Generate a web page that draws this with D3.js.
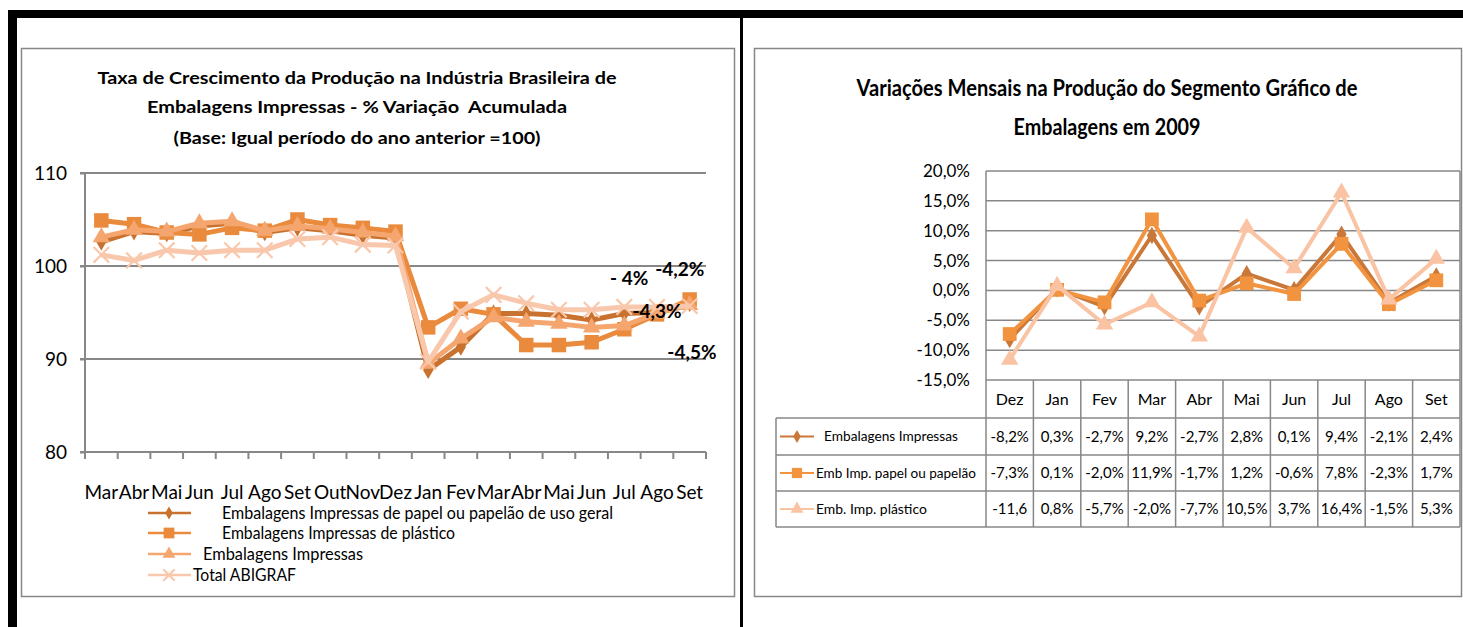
<!DOCTYPE html>
<html>
<head>
<meta charset="utf-8">
<script src="https://cdn.jsdelivr.net/npm/d3@7"></script>
<style>
  body { margin: 0; background: #fff; }
  svg { display: block; font-family: Lato, "Open Sans", sans-serif; }
</style>
</head>
<body>
<svg id="chart" width="1463" height="627"></svg>
<script>
// ---- left chart: accumulated variation (base = 100)
var monthsAcc = ['Mar','Abr','Mai','Jun','Jul','Ago','Set','Out','Nov','Dez','Jan','Fev','Mar','Abr','Mai','Jun','Jul','Ago','Set'];
var accPapel    = [102.6,103.7,103.5,104.3,104.6,103.6,104.1,103.8,103.3,103.0,88.8,91.3,94.9,94.9,94.7,94.2,94.9,95.0,96.0];
var accPlastico = [104.9,104.5,103.6,103.4,104.1,103.8,105.0,104.4,104.1,103.7,93.4,95.4,94.8,91.5,91.5,91.8,93.2,94.8,96.4];
var accEmb      = [103.1,103.9,103.7,104.6,104.8,103.8,104.3,104.0,103.6,103.2,89.5,92.2,94.5,94.0,93.8,93.4,93.6,94.9,95.8];
var accTotal    = [101.2,100.6,101.7,101.4,101.7,101.7,102.9,103.1,102.3,102.2,89.7,95.1,96.9,96.0,95.3,95.3,95.6,95.6,95.7];
var yTicksAcc = [80, 90, 100, 110];
var accNames = ['Embalagens Impressas de papel ou papelão de uso geral', 'Embalagens Impressas de plástico', 'Embalagens Impressas', 'Total ABIGRAF'];
// data labels: text, category position, value
var accLabels = [
  {t: '- 4%',  i: 16.15, v: 97.95},
  {t: '-4,2%', i: 17.7,  v: 98.9},
  {t: '-4,3%', i: 17.0,  v: 94.4},
  {t: '-4,5%', i: 18.07, v: 89.95}
];

// ---- right chart: monthly variation 2009
var monthsVar = ['Dez','Jan','Fev','Mar','Abr','Mai','Jun','Jul','Ago','Set'];
var varEmb      = [-8.2,0.3,-2.7,9.2,-2.7,2.8,0.1,9.4,-2.1,2.4];
var varPapel    = [-7.3,0.1,-2.0,11.9,-1.7,1.2,-0.6,7.8,-2.3,1.7];
var varPlastico = [-11.6,0.8,-5.7,-2.0,-7.7,10.5,3.7,16.4,-1.5,5.3];
var yTicksVar = [-15,-10,-5,0,5,10,15,20];
var varNames = ['Embalagens Impressas', 'Emb Imp. papel ou papelão', 'Emb. Imp. plástico'];
var cellOverride = {'2-0': '-11,6'};

var svg = d3.select('#chart');
var gridColor = '#878787';

// squeeze a text into a width with textLength
function fit(sel, w) {
  sel.each(function () {
    if (Math.abs(this.getComputedTextLength() - w) > 3)
      d3.select(this).attr('textLength', w).attr('lengthAdjust', 'spacingAndGlyphs');
  });
}
// shrink the font so the text is no wider than w
function shrink(sel, w) {
  sel.each(function () {
    var n = d3.select(this), len = this.getComputedTextLength();
    if (len > w) n.attr('font-size', +n.attr('font-size') * w / len);
  });
}

function marker(g, type, color, size) {
  var sym = {
    diamond: d3.symbolDiamond, square: d3.symbolSquare,
    triangle: d3.symbolTriangle, times: d3.symbolTimes || d3.symbolCross
  }[type];
  var p = g.attr('d', d3.symbol().type(sym).size(size));
  if (type == 'times') p.attr('fill', 'none').attr('stroke', color).attr('stroke-width', 2.2);
  else p.attr('fill', color);
  return p;
}

// frame
svg.append('rect').attr('x', 8).attr('y', 10).attr('width', 1455).attr('height', 8).attr('fill', '#000');
svg.append('rect').attr('x', 8).attr('y', 10).attr('width', 9).attr('height', 617).attr('fill', '#000');
svg.append('rect').attr('x', 740).attr('y', 10).attr('width', 3).attr('height', 617).attr('fill', '#000');

// panels
svg.append('rect').attr('x', 21.5).attr('y', 48.5).attr('width', 713).attr('height', 548)
  .attr('fill', '#fff').attr('stroke', gridColor).attr('stroke-width', 1.5);
svg.append('rect').attr('x', 754.5).attr('y', 48.5).attr('width', 707).attr('height', 548)
  .attr('fill', '#fff').attr('stroke', gridColor).attr('stroke-width', 1.5);

// ================= left chart
var left = svg.append('g');
var titleL = ['Taxa de Crescimento da Produção na Indústria Brasileira de',
  'Embalagens Impressas - % Variação  Acumulada',
  '(Base: Igual período do ano anterior =100)'];
var titleLW = [519, 420, 367];
var titleLY = [78, 107, 138];
titleL.forEach(function (t, i) {
  left.append('text').attr('x', 357).attr('y', titleLY[i]).attr('dy', '0.35em')
    .attr('text-anchor', 'middle').attr('font-size', 17).attr('font-weight', 'bold')
    .attr('xml:space', 'preserve').text(t).call(fit, titleLW[i]);
});

var xAcc = d3.scaleBand().domain(d3.range(monthsAcc.length)).range([85, 706]);
var xPos = function (i) { return xAcc.range()[0] + xAcc.step() * (i + 0.5); };
var yAcc = d3.scaleLinear().domain([80, 110]).range([452, 173]);

left.selectAll('line.grid').data(yTicksAcc.slice(1)).join('line')
  .attr('x1', 80).attr('x2', 706).attr('y1', yAcc).attr('y2', yAcc)
  .attr('stroke', gridColor).attr('stroke-width', 2);

var yAxisL = left.append('g').attr('transform', 'translate(85,0)')
  .call(d3.axisLeft(yAcc).tickValues(yTicksAcc).tickSize(5).tickPadding(13));
yAxisL.selectAll('line, path').attr('stroke', gridColor).attr('stroke-width', 2);
yAxisL.select('path').attr('d', 'M0,' + yAcc(80) + 'V' + yAcc(110));
yAxisL.selectAll('text').attr('font-size', 19).attr('fill', '#000').attr('font-family', 'Lato');

var xAxisL = left.append('g').attr('transform', 'translate(0,452)')
  .call(d3.axisBottom(xAcc).tickSize(0).tickPadding(34).tickFormat(function (i) { return monthsAcc[i]; }));
xAxisL.select('path').attr('stroke', gridColor).attr('stroke-width', 2).attr('d', 'M80,0H706');
xAxisL.selectAll('text').attr('font-size', 19).attr('fill', '#000').attr('font-family', 'Lato');
left.selectAll('line.xt').data(d3.range(monthsAcc.length + 1)).join('line')
  .attr('x1', function (i) { return 85 + xAcc.step() * i; })
  .attr('x2', function (i) { return 85 + xAcc.step() * i; })
  .attr('y1', 452).attr('y2', 459).attr('stroke', gridColor).attr('stroke-width', 2);

var seriesL = [
  {name: accNames[0], values: accPapel,    color: '#c9722f', m: 'diamond',  size: 90},
  {name: accNames[1], values: accPlastico, color: '#e98a3d', m: 'square',   size: 210},
  {name: accNames[2], values: accEmb,      color: '#f5a66f', m: 'triangle', size: 130},
  {name: accNames[3], values: accTotal,    color: '#f9c7ab', m: 'times',    size: 160}
];
var lineL = d3.line().x(function (d, i) { return xPos(i); }).y(function (d) { return yAcc(d); });

seriesL.forEach(function (s) {
  var g = left.append('g');
  g.append('path').attr('d', lineL(s.values)).attr('fill', 'none')
    .attr('stroke', s.color).attr('stroke-width', 5).attr('stroke-linejoin', 'round');
  g.selectAll('path.m').data(s.values).join('path')
    .attr('transform', function (d, i) { return 'translate(' + xPos(i) + ',' + yAcc(d) + ')'; })
    .each(function () { marker(d3.select(this), s.m, s.color, s.size); });
});

left.selectAll('text.lab').data(accLabels).join('text')
  .attr('x', function (d) { return xPos(d.i); }).attr('y', function (d) { return yAcc(d.v); })
  .attr('text-anchor', 'middle').attr('font-size', 19).attr('font-weight', 'bold')
  .text(function (d) { return d.t; });

// legend
var legY = [513, 533, 554, 575];
var legTX = [222, 222, 203, 193];
var legW = [391, 233, 160, 103];
seriesL.forEach(function (s, i) {
  var g = left.append('g').attr('transform', 'translate(0,' + legY[i] + ')');
  g.append('line').attr('x1', 148).attr('x2', 191).attr('stroke', s.color).attr('stroke-width', 2.5);
  marker(g.append('path').attr('transform', 'translate(169,0)'), s.m, s.color, s.size * 0.55);
  g.append('text').attr('x', legTX[i]).attr('dy', '0.35em').attr('font-size', 17)
    .text(s.name).call(fit, legW[i]);
});

// ================= right chart
var right = svg.append('g');
var titleR = ['Variações Mensais na Produção do Segmento Gráfico de', 'Embalagens em 2009'];
var titleRW = [501, 187];
var titleRY = [88, 127];
titleR.forEach(function (t, i) {
  right.append('text').attr('x', 1107).attr('y', titleRY[i]).attr('dy', '0.35em')
    .attr('text-anchor', 'middle').attr('font-size', 22).attr('font-weight', 'bold')
    .text(t).call(fit, titleRW[i]);
});

var xVar = d3.scaleBand().domain(monthsVar).range([986, 1460]);
var yVar = d3.scaleLinear().domain([-15, 20]).range([380, 171]);
var fmt = function (v) { return d3.format('.1f')(v).replace('.', ',').replace('−', '-') + '%'; };

right.selectAll('line.grid').data(yTicksVar).join('line')
  .attr('x1', 986).attr('x2', 1460).attr('y1', yVar).attr('y2', yVar)
  .attr('stroke', gridColor).attr('stroke-width', 1.5);

var yAxisR = right.append('g').attr('transform', 'translate(986,0)')
  .call(d3.axisLeft(yVar).tickValues(yTicksVar).tickSize(0).tickPadding(16).tickFormat(fmt));
yAxisR.select('path').attr('stroke', gridColor).attr('stroke-width', 1.5).attr('d', 'M0,171V527');
yAxisR.selectAll('text').attr('font-size', 17).attr('fill', '#000').attr('font-family', 'Lato');

// table
var rowY = [380, 418, 455, 491, 527];
right.selectAll('line.col').data(monthsVar.slice(1).concat(['end'])).join('line')
  .attr('x1', function (d, i) { return xVar.range()[0] + xVar.step() * (i + 1); })
  .attr('x2', function (d, i) { return xVar.range()[0] + xVar.step() * (i + 1); })
  .attr('y1', function (d) { return d == 'end' ? 171 : 380; }).attr('y2', 527)
  .attr('stroke', gridColor).attr('stroke-width', 1.5);
right.selectAll('line.row').data(rowY.slice(1)).join('line')
  .attr('x1', 776).attr('x2', 1460).attr('y1', function (d) { return d; }).attr('y2', function (d) { return d; })
  .attr('stroke', gridColor).attr('stroke-width', 1.5);
right.append('line').attr('x1', 776).attr('x2', 776).attr('y1', 418).attr('y2', 527)
  .attr('stroke', gridColor).attr('stroke-width', 1.5);

right.selectAll('text.mon').data(monthsVar).join('text')
  .attr('x', function (d) { return xVar(d) + xVar.bandwidth() / 2; }).attr('y', 399).attr('dy', '0.35em')
  .attr('text-anchor', 'middle').attr('font-size', 16).text(function (d) { return d; });

var seriesR = [
  {name: varNames[0], values: varEmb,      color: '#c9783a', m: 'diamond',  size: 90,  tx: 824, tw: 134},
  {name: varNames[1], values: varPapel,    color: '#f29340', m: 'square',   size: 190, tx: 816, tw: 160},
  {name: varNames[2], values: varPlastico, color: '#f9c3a4', m: 'triangle', size: 130, tx: 816, tw: 111}
];
var lineR = d3.line().x(function (d, i) { return xVar(monthsVar[i]) + xVar.bandwidth() / 2; }).y(function (d) { return yVar(d); });

seriesR.forEach(function (s, k) {
  var g = right.append('g');
  g.append('path').attr('d', lineR(s.values)).attr('fill', 'none')
    .attr('stroke', s.color).attr('stroke-width', 4).attr('stroke-linejoin', 'round');
  g.selectAll('path.m').data(s.values).join('path')
    .attr('transform', function (d, i) { return 'translate(' + (xVar(monthsVar[i]) + xVar.bandwidth() / 2) + ',' + yVar(d) + ')'; })
    .each(function () { marker(d3.select(this), s.m, s.color, s.size); });

  var cy = (rowY[k + 1] + rowY[k + 2]) / 2;
  var row = right.append('g').attr('transform', 'translate(0,' + cy + ')');
  row.append('line').attr('x1', 780).attr('x2', 814).attr('stroke', s.color).attr('stroke-width', 2);
  marker(row.append('path').attr('transform', 'translate(797,0)'), s.m, s.color, s.size * 0.55);
  row.append('text').attr('x', s.tx).attr('dy', '0.35em').attr('font-size', 16).text(s.name).call(shrink, s.tw);
  row.selectAll('text.v').data(s.values).join('text')
    .attr('x', function (d, i) { return xVar(monthsVar[i]) + xVar.bandwidth() / 2; }).attr('dy', '0.35em')
    .attr('text-anchor', 'middle').attr('font-size', 15)
    .text(function (d, i) { return cellOverride[k + '-' + i] || fmt(d); })
    .call(shrink, xVar.bandwidth() - 6);
});
</script>
</body>
</html>
